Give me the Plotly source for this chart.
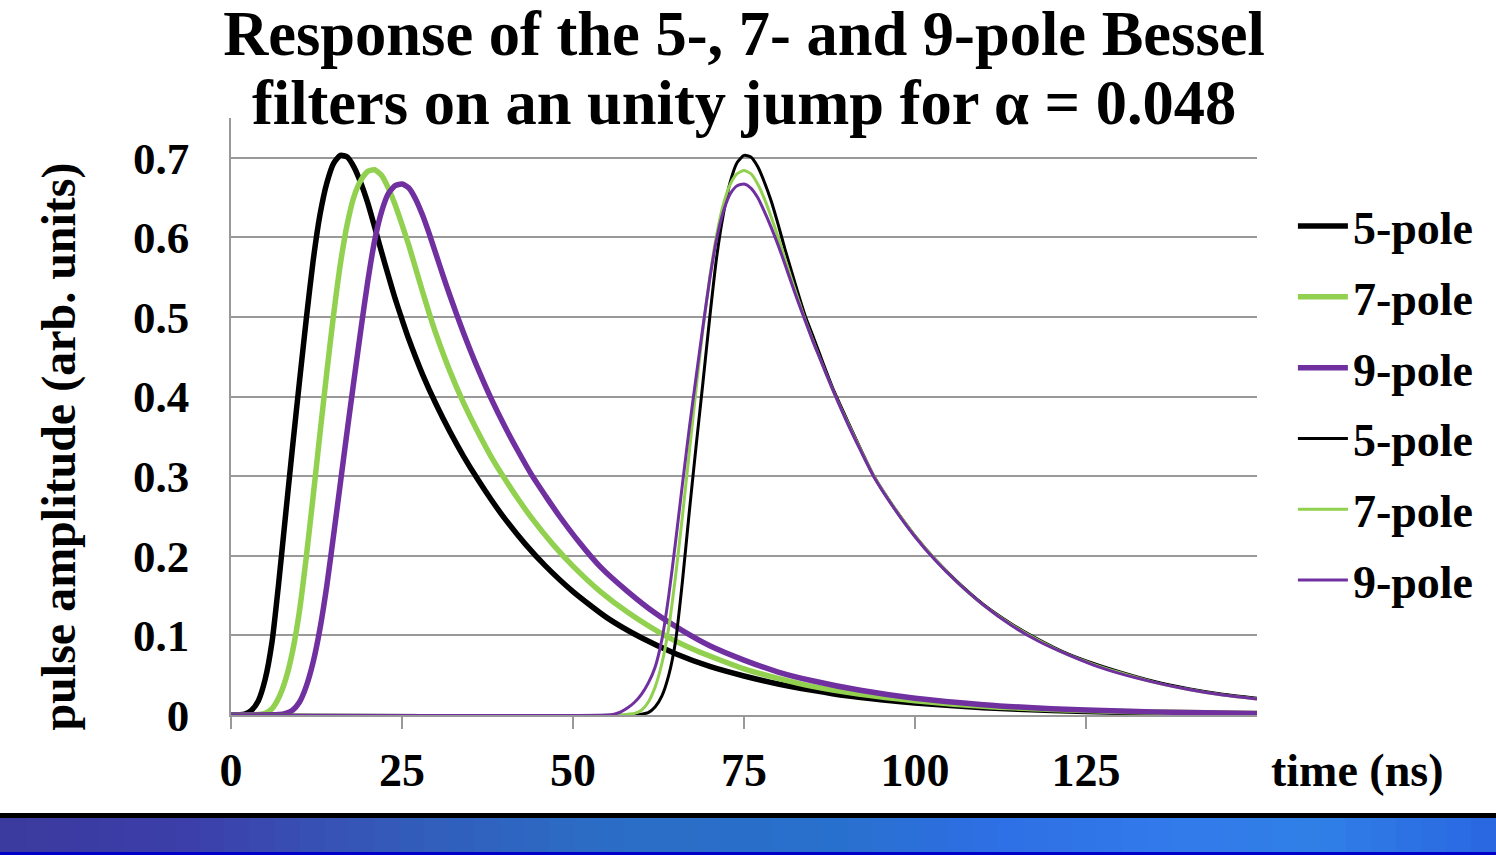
import plotly.graph_objects as go

# ---- pulse responses, first set (step applied at t = 0) ----
t5_a = [0, 2, 3, 4, 5, 6, 7, 8, 9, 10, 11, 12, 13, 14, 15, 16, 17, 18, 19, 20,
        21, 22, 23, 24, 25, 26, 28, 30, 32, 34, 36, 38, 40, 43, 46, 50, 55, 60,
        65, 70, 75, 80, 85, 90, 95, 100, 110, 120, 130, 140, 150]
v5_a = [0, 0.001, 0.006, 0.018, 0.045, 0.092, 0.168, 0.253, 0.337, 0.418, 0.497,
        0.57, 0.628, 0.668, 0.693, 0.703, 0.701, 0.688, 0.668, 0.643, 0.613, 0.582,
        0.552, 0.523, 0.497, 0.472, 0.428, 0.39, 0.356, 0.325, 0.297, 0.271, 0.247,
        0.215, 0.187, 0.155, 0.122, 0.097, 0.077, 0.061, 0.049, 0.039, 0.031,
        0.024, 0.019, 0.015, 0.009, 0.0055, 0.0035, 0.002, 0.0013]

t7_a = [0, 4, 5, 6, 7, 8, 9, 10, 11, 12, 13, 14, 15, 16, 17, 18, 19, 20, 21, 22,
        23, 24, 25, 26, 27, 28, 29, 30, 32, 34, 36, 38, 40, 42, 44, 47, 50, 54,
        58, 63, 68, 75, 80, 85, 92, 100, 110, 120, 130, 140, 150]
v7_a = [0, 0.0005, 0.002, 0.008, 0.022, 0.045, 0.08, 0.13, 0.198, 0.274, 0.353,
        0.43, 0.503, 0.567, 0.617, 0.652, 0.672, 0.683, 0.685, 0.678, 0.662, 0.641,
        0.616, 0.59, 0.561, 0.532, 0.504, 0.478, 0.432, 0.392, 0.357, 0.325, 0.297,
        0.271, 0.247, 0.215, 0.187, 0.155, 0.129, 0.102, 0.081, 0.058, 0.046,
        0.036, 0.026, 0.018, 0.011, 0.007, 0.0045, 0.003, 0.002]

t9_a = [0, 7, 8, 9, 10, 11, 12, 13, 14, 15, 16, 17, 18, 19, 20, 21, 22, 23, 24,
        25, 26, 27, 28, 29, 30, 31, 32, 33, 34, 35, 36, 38, 40, 42, 44, 46, 48,
        51, 54, 58, 62, 66, 70, 75, 80, 85, 92, 100, 110, 120, 130, 140, 150]
v9_a = [0, 0.0005, 0.002, 0.006, 0.016, 0.036, 0.066, 0.108, 0.162, 0.226, 0.292,
        0.358, 0.422, 0.485, 0.545, 0.596, 0.632, 0.655, 0.665, 0.667, 0.662, 0.648,
        0.628, 0.604, 0.578, 0.552, 0.527, 0.503, 0.48, 0.458, 0.437, 0.398, 0.363,
        0.331, 0.301, 0.275, 0.25, 0.216, 0.186, 0.155, 0.128, 0.106, 0.087,
        0.069, 0.054, 0.043, 0.031, 0.021, 0.013, 0.008, 0.005, 0.003, 0.002]

# ---- pulse responses, second set (aligned to peak at 75 ns) ----
t5_b = [0, 59, 60, 61, 62, 63, 64, 65, 66, 67, 68, 69, 70, 71, 72, 73, 74, 75,
        76, 77, 78, 79, 80, 81, 82, 83, 84, 85, 86, 87, 88, 90, 92, 94, 97, 100,
        103, 106, 110, 114, 118, 122, 126, 130, 135, 140, 145, 150]
v5_b = [0, 0, 0.001, 0.003, 0.01, 0.024, 0.05, 0.093, 0.168, 0.255, 0.338, 0.418,
        0.5, 0.575, 0.63, 0.67, 0.694, 0.703, 0.701, 0.689, 0.669, 0.645, 0.616,
        0.585, 0.556, 0.527, 0.5, 0.478, 0.455, 0.432, 0.41, 0.372, 0.335, 0.3,
        0.26, 0.225, 0.195, 0.169, 0.139, 0.115, 0.095, 0.078, 0.065, 0.054,
        0.042, 0.033, 0.026, 0.021]

t7_b = [0, 57, 58, 59, 60, 61, 62, 63, 64, 65, 66, 67, 68, 69, 70, 71, 72, 73,
        74, 75, 76, 77, 78, 79, 80, 81, 82, 83, 84, 85, 86, 88, 90, 92, 94, 97,
        100, 103, 106, 110, 114, 118, 122, 126, 130, 135, 140, 145, 150]
v7_b = [0, 0, 0.001, 0.002, 0.006, 0.016, 0.035, 0.065, 0.11, 0.175, 0.25, 0.33,
        0.41, 0.485, 0.55, 0.603, 0.642, 0.667, 0.68, 0.684, 0.68, 0.667, 0.648,
        0.625, 0.6, 0.573, 0.546, 0.52, 0.495, 0.472, 0.45, 0.408, 0.37, 0.334,
        0.3, 0.26, 0.225, 0.195, 0.168, 0.138, 0.114, 0.094, 0.077, 0.064, 0.053,
        0.041, 0.032, 0.025, 0.02]

t9_b = [0, 55, 56, 57, 58, 59, 60, 61, 62, 63, 64, 65, 66, 67, 68, 69, 70, 71,
        72, 73, 74, 75, 76, 77, 78, 79, 80, 81, 82, 83, 84, 85, 86, 88, 90, 92,
        94, 97, 100, 103, 106, 110, 114, 118, 122, 126, 130, 135, 140, 145, 150]
v9_b = [0, 0, 0.001, 0.004, 0.009, 0.016, 0.026, 0.04, 0.06, 0.095, 0.15, 0.218,
        0.29, 0.36, 0.425, 0.488, 0.548, 0.598, 0.633, 0.655, 0.665, 0.667, 0.662,
        0.65, 0.632, 0.612, 0.59, 0.566, 0.541, 0.517, 0.494, 0.471, 0.45, 0.408,
        0.369, 0.333, 0.299, 0.259, 0.224, 0.194, 0.168, 0.138, 0.113, 0.093,
        0.077, 0.063, 0.052, 0.041, 0.032, 0.025, 0.02]

x_ticks = [0, 25, 50, 75, 100, 125]
y_ticks = [0, 0.1, 0.2, 0.3, 0.4, 0.5, 0.6, 0.7]
y_tick_text = ["0", "0.1", "0.2", "0.3", "0.4", "0.5", "0.6", "0.7"]

TITLE_1 = "Response of the 5-, 7- and 9-pole Bessel"
TITLE_2 = "filters on an unity jump for α = 0.048"

BLACK = "#000000"
GREEN = "#92d050"
PURPLE = "#7030a0"
SERIF = "Liberation Serif"

series = [
    ("5-pole", t5_a, v5_a, BLACK, 5.5),
    ("7-pole", t7_a, v7_a, GREEN, 5.5),
    ("9-pole", t9_a, v9_a, PURPLE, 5.5),
    ("5-pole", t5_b, v5_b, BLACK, 3),
    ("7-pole", t7_b, v7_b, GREEN, 3),
    ("9-pole", t9_b, v9_b, PURPLE, 3),
]

fig = go.Figure()
for i, (name, t, v, color, width) in enumerate(series):
    fig.add_trace(go.Scatter(
        x=t, y=v, name=f"<b>{name}</b>", mode="lines", legendgroup=f"g{i}",
        line=dict(color=color, width=width, shape="spline", smoothing=0.6),
        hoverinfo="skip",
    ))


# footer band of the slide: black rule over a left-to-right blue gradient
def _hex(c):
    return tuple(int(c[j:j + 2], 16) for j in (1, 3, 5))


stops = [(0.00, "#3b3a9e"), (0.12, "#3c3ea9"), (0.25, "#3458b8"),
         (0.40, "#2b6dc6"), (0.55, "#2870cc"), (0.66, "#2e6fe4"),
         (0.78, "#327aec"), (0.88, "#2f7fe6"), (1.00, "#2a66e2")]
x_left = -231 / 1026
x_span = 1496 / 1026
n_seg = 60
band = []
for k in range(n_seg):
    f = (k + 0.5) / n_seg
    for (p0, c0), (p1, c1) in zip(stops[:-1], stops[1:]):
        if p0 <= f <= p1:
            a, b = _hex(c0), _hex(c1)
            w = (f - p0) / (p1 - p0)
            col = "rgb(%d,%d,%d)" % tuple(round(a[j] + (b[j] - a[j]) * w) for j in range(3))
            break
    band.append(dict(type="rect", xref="paper", yref="paper",
                     x0=x_left + k * x_span / n_seg,
                     x1=x_left + (k + 1) * x_span / n_seg + 0.001,
                     y0=-0.2295, y1=-0.1725,
                     fillcolor=col, line=dict(width=0), layer="above"))
band.append(dict(type="rect", xref="paper", yref="paper",
                 x0=x_left, x1=x_left + x_span, y0=-0.1725, y1=-0.164,
                 fillcolor="#000000", line=dict(width=0), layer="above"))
band.append(dict(type="rect", xref="paper", yref="paper",
                 x0=x_left, x1=x_left + x_span, y0=-0.2400, y1=-0.2295,
                 fillcolor="#0000c8", line=dict(width=0), layer="above"))

fig.update_layout(
    width=1496, height=855,
    margin=dict(l=231, r=239, t=118, b=140),
    paper_bgcolor="white", plot_bgcolor="white",
    font=dict(family=SERIF, color="black", size=44),
    title=dict(
        text=f"<b>{TITLE_1}</b>",
        x=0.5, xref="paper", xanchor="center",
        y=0.9614, yref="container", yanchor="middle",
        font=dict(family=SERIF, size=62.5, color="black"),
    ),
    xaxis=dict(
        range=[0, 150], tickvals=x_ticks, ticktext=[f"<b>{v}</b>" for v in x_ticks],
        ticks="outside", ticklen=12, tickcolor="#999999", tickwidth=1.5,
        ticklabelstandoff=2,
        showline=True, linecolor="#999999", linewidth=1.5,
        showgrid=False, zeroline=False,
        tickfont=dict(family=SERIF, size=46, color="black"),
    ),
    yaxis=dict(
        range=[0, 0.75], tickvals=y_ticks,
        ticktext=[f"<b>{s}</b>" for s in y_tick_text],
        ticks="", ticklabelstandoff=31,
        showline=True, linecolor="#999999", linewidth=1.5,
        showgrid=True, gridcolor="#999999", gridwidth=1.5,
        zeroline=False,
        tickfont=dict(family=SERIF, size=45, color="black"),
    ),
    legend=dict(
        x=1.035, xanchor="left", y=0.88, yanchor="top",
        font=dict(family=SERIF, size=46, color="black"),
        tracegroupgap=8, itemwidth=50, bgcolor="rgba(0,0,0,0)",
    ),
    shapes=band,
    annotations=[
        dict(text=f"<b>{TITLE_2}</b>",
             xref="paper", yref="paper", x=0.5, y=1.025,
             xanchor="center", yanchor="middle", showarrow=False,
             font=dict(family=SERIF, size=62.5, color="black")),
        dict(text="<b>pulse amplitude (arb. units)</b>", textangle=-90,
             xref="paper", yref="paper", x=-0.168, y=0.449,
             xanchor="center", yanchor="middle", showarrow=False,
             font=dict(family=SERIF, size=48, color="black")),
        dict(text="<b>time (ns)</b>",
             xref="paper", yref="paper", x=1.012, y=-0.093,
             xanchor="left", yanchor="middle", showarrow=False,
             font=dict(family=SERIF, size=46, color="black")),
    ],
)

fig.write_html("out.html")
